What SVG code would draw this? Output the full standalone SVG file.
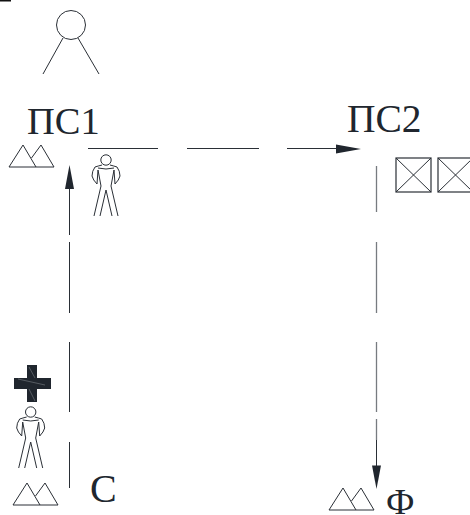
<svg xmlns="http://www.w3.org/2000/svg" width="470" height="515" viewBox="0 0 470 515">
<style>
.l{fill:none;stroke:#2a2f36;stroke-width:1}
.c{stroke:#2a2f36;stroke-width:1;fill:none}
.g{stroke:#777b80;stroke-width:1.300;fill:none}
.h{fill:#20262e;stroke:none}
.s{stroke:#6d7278;stroke-width:.7;fill:none}
text{font-family:"Liberation Serif",serif;fill:#20262e}
</style>
<defs>
<g id="person" class="l">
<circle cx="106" cy="160" r="5.200"/>
<path d="M102 165Q98 166 95 167Q92 171 92 176Q93 180 97 184L98 170L101 186L94 216"/>
<path d="M110 165Q114 166 117 167Q120 171 120 176Q119 180 115 184L114 170L111 186L118 216"/>
<path d="M100 216L106 190L112 216M98 168Q106 170 114 168"/>
</g>
<g id="mountains" class="l">
<path d="M9 167L23 145L36 167ZM31.500 158L41 145L54 167H36"/>
</g>
<g id="box" class="l">
<rect x="0" y="0" width="35" height="34" stroke-width="1.200"/>
<path d="M0 0L35 34M35 0L0 34"/>
</g>
</defs>
<rect x="0" y="0" width="11" height="1.500" fill="#111"/>
<g id="node-top-symbol" class="l">
<circle cx="71" cy="25" r="14.500"/>
<path d="M63 38L43 74M78 38L99 74"/>
</g>
<g id="node-ps1">
<text x="27" y="134" font-size="38.500">ПС1</text>
<use href="#mountains"/>
<use href="#person"/>
</g>
<g id="node-ps2">
<text x="347" y="132" font-size="39.500">ПС2</text>
<use href="#box" x="396" y="158"/>
<use href="#box" x="438" y="158"/>
</g>
<g id="node-c">
<text x="90" y="502" font-size="40">С</text>
<path class="h" d="M27 365H37V378H51V389H37V402H27V389H14V378H27Z"/>
<path class="s" d="M29 367L35 378M18 379L45 385M29 389L35 401"/>
<use href="#person" x="-75.300" y="252"/>
<use href="#mountains" x="4" y="338"/>
</g>
<g id="node-f">
<text x="386" y="514" font-size="36">Ф</text>
<use href="#mountains" x="320" y="343"/>
</g>
<g id="connectors">
<path class="c" d="M88 148.500H158M187 148.500H259M287 148.500H340"/>
<path class="h" d="M361 149L336 144.500V153.500Z"/>
<path class="c" d="M69.500 235V188M69.500 242V313M69.500 342V412M69.500 442V488"/>
<path class="h" d="M69.500 165L65 189H74Z"/>
<path class="g" d="M376.500 166V212M376.500 242V313M376.500 342V412M376.500 419V440"/>
<path class="c" d="M376.500 440V470"/>
<path class="h" d="M376.500 489L372 465.500H381Z"/>
</g>
</svg>
